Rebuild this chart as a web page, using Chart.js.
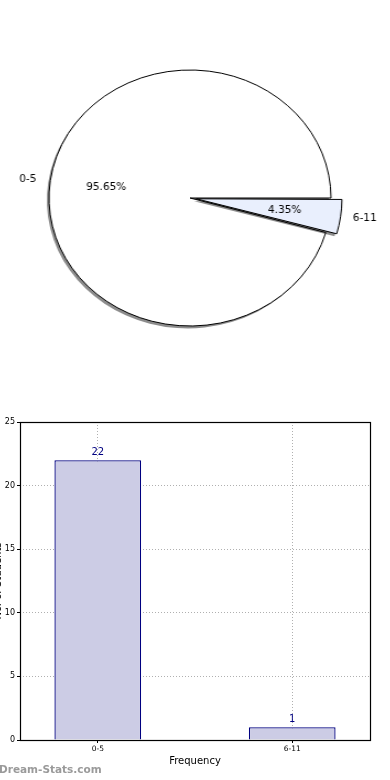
<!DOCTYPE html>
<html><head><meta charset="utf-8">
<script src="https://cdn.jsdelivr.net/npm/chart.js@4.4.0/dist/chart.umd.min.js"></script>
<style>
html,body{margin:0;padding:0;background:#fff;width:390px;height:780px;overflow:hidden;position:relative;font-family:"DejaVu Sans";}
#pieWrap{position:absolute;left:0;top:0;width:390px;height:396px;transform:scaleX(1.1016);transform-origin:190px 198px;}
#barWrap{position:absolute;left:-12px;top:410px;width:402px;height:370px;}
#wm{position:absolute;left:-1px;top:763px;font:bold 10.5px "DejaVu Sans";color:#9a9a9a;white-space:nowrap;}
</style></head><body>
<div id="pieWrap"><canvas id="pie"></canvas></div>
<div id="barWrap"><canvas id="bar"></canvas></div>
<div id="wm">Dream-Stats.com</div>
<script>
const categories = ['0-5', '6-11'];
const counts = [22, 1];
const yTicks = [0, 5, 10, 15, 20, 25];
const xTitle = 'Frequency';
const yTitle = 'No. of Students';
const pieColors = ['#ffffff', '#e9effd'];

const SX = 1.1016;
const total = counts.reduce((a, b) => a + b, 0);
const pct = counts.map(v => (v / total * 100).toFixed(2) + '%');

function txt(ctx, t, x, y, align, font, color, sx) {
  ctx.save();
  ctx.translate(x, y);
  ctx.scale(1 / sx, 1);
  ctx.font = font;
  ctx.fillStyle = color;
  ctx.textAlign = align;
  ctx.textBaseline = 'middle';
  ctx.fillText(t, 0, 0);
  ctx.restore();
}

const shadowPlugin = {
  id: 'shadow',
  beforeDatasetDraw(chart) {
    const c = chart.ctx;
    c.save();
    c.shadowColor = 'rgba(0,0,0,0.45)';
    c.shadowBlur = 0;
    c.shadowOffsetX = -2;
    c.shadowOffsetY = 2.4;
    const orig = CanvasRenderingContext2D.prototype.stroke;
    c.stroke = function (...a) {
      const sc = this.shadowColor;
      this.shadowColor = 'rgba(0,0,0,0)';
      orig.apply(this, a);
      this.shadowColor = sc;
    };
  },
  afterDatasetDraw(chart) {
    const c = chart.ctx;
    delete c.stroke;
    c.restore();
  }
};

const pieLabelPlugin = {
  id: 'pieLabels',
  afterDatasetsDraw(chart) {
    const ctx = chart.ctx;
    const meta = chart.getDatasetMeta(0);
    meta.data.forEach((arc, i) => {
      const p = arc.getProps(['x', 'y', 'startAngle', 'endAngle', 'outerRadius', 'circumference'], true);
      const mid = (p.startAngle + p.endAngle) / 2;
      const off = (arc.options.offset || 0) / 4;
      const fix = 1 - Math.sin(Math.min(Math.PI, p.circumference));
      const shift = off + off * fix;
      const cx = p.x + Math.cos(mid) * shift, cy = p.y + Math.sin(mid) * shift;
      const c = Math.cos(mid), s = Math.sin(mid);
      txt(ctx, categories[i], cx + c * p.outerRadius * 1.1 - (c >= 0 ? 1.5 : 0), cy + s * p.outerRadius * 1.1,
          c >= 0 ? 'left' : 'right', '10.5px "DejaVu Sans"', '#000', SX);
      txt(ctx, pct[i], cx + c * p.outerRadius * 0.6, cy + s * p.outerRadius * 0.6,
          'center', '10.5px "DejaVu Sans"', '#000', SX);
    });
  }
};

new Chart(document.getElementById('pie'), {
  type: 'pie',
  data: {
    labels: categories,
    datasets: [{
      data: counts,
      backgroundColor: pieColors,
      borderColor: '#000',
      borderWidth: 1,
      offset: [0, 23]
    }]
  },
  options: {
    responsive: true, maintainAspectRatio: false, animation: false, events: [],
    rotation: 90 + 360 * counts[1] / total,
    radius: 128,
    layout: { padding: { right: 10 } },
    plugins: { legend: { display: false }, tooltip: { enabled: false } }
  },
  plugins: [shadowPlugin, pieLabelPlugin]
});

const boxPlugin = {
  id: 'box',
  afterDraw(chart) {
    const a = chart.chartArea, ctx = chart.ctx;
    ctx.save();
    ctx.strokeStyle = '#000';
    ctx.lineWidth = 1.2;
    ctx.strokeRect(Math.round(a.left) + 0.5, Math.round(a.top) + 0.5, Math.round(a.width), Math.round(a.height));
    ctx.restore();
  }
};

const valuePlugin = {
  id: 'values',
  afterDatasetsDraw(chart) {
    const ctx = chart.ctx;
    chart.getDatasetMeta(0).data.forEach((bar, i) => {
      txt(ctx, String(counts[i]), bar.x, bar.y - 8, 'center', '10px "DejaVu Sans"', '#000080', 1);
    });
  }
};

new Chart(document.getElementById('bar'), {
  type: 'bar',
  data: {
    datasets: [{
      data: categories.map((c, i) => ({ x: i, y: counts[i] })),
      backgroundColor: '#ccccE5',
      borderColor: '#000080',
      borderWidth: 1.3,
      barPercentage: 0.446,
      categoryPercentage: 1
    }]
  },
  options: {
    responsive: true, maintainAspectRatio: false, animation: false, events: [],
    layout: { padding: { top: 12, right: 20, left: 0, bottom: 0 } },
    plugins: { legend: { display: false }, tooltip: { enabled: false } },
    scales: {
      x: {
        type: 'linear', min: -0.4, max: 1.4, z: 1, offset: false,
        afterBuildTicks: s => { s.ticks = categories.map((c, i) => ({ value: i })); },
        afterFit: s => { s.height = 40; },
        ticks: { callback: v => categories[v], font: { family: 'DejaVu Sans', size: 7.5 }, color: '#000', padding: 2, maxRotation: 0, autoSkip: false },
        grid: { offset: false, color: '#b0b0b0', lineWidth: 1, tickLength: 3, tickColor: '#000' },
        border: { display: false, dash: [1, 2] },
        title: { display: true, text: xTitle, font: { family: 'DejaVu Sans', size: 10 }, color: '#000', padding: { top: 0, bottom: 13 } }
      },
      y: {
        min: yTicks[0], max: yTicks[yTicks.length - 1], z: 1,
        afterBuildTicks: s => { s.ticks = yTicks.map(v => ({ value: v })); },
        afterFit: s => { s.width = 32; },
        ticks: { font: { family: 'DejaVu Sans', size: 8 }, color: '#000', padding: 2 },
        grid: { color: '#b0b0b0', lineWidth: 1, tickLength: 3, tickColor: '#000' },
        border: { display: false, dash: [1, 2] },
        title: { display: true, text: yTitle, font: { family: 'DejaVu Sans', size: 10 }, color: '#000', padding: { top: 4, bottom: 0 } }
      }
    }
  },
  plugins: [boxPlugin, valuePlugin]
});
</script>
</body></html>
